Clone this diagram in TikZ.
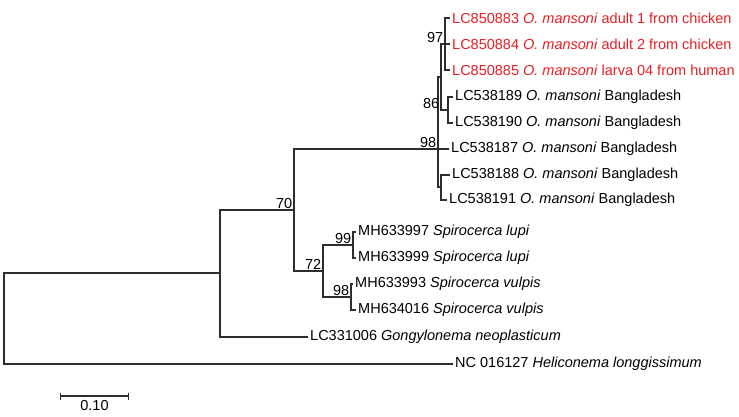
\documentclass[tikz,border=0pt]{standalone}
\usepackage{fontspec}
\setmainfont{Liberation Sans}
\usepackage{xcolor}
\usetikzlibrary{arrows.meta}

\definecolor{tipred}{RGB}{232,30,36}

\begin{document}
\begin{tikzpicture}[
  x=1pt, y=-1pt,
  font=\fontsize{14.5}{16}\selectfont,
  branch/.style={line width=1.3pt, draw=black!82},
  taxon/.style={anchor=west, inner sep=2pt},
  newtaxon/.style={taxon, text=tipred},
  boot/.style={anchor=south east, inner sep=1.5pt}
]
\useasboundingbox (0,0) rectangle (739,417);

% internal nodes
\coordinate (root)  at (4,319);
\coordinate (nA)    at (220,273);
\coordinate (nB)    at (294,210);
\coordinate (nC)    at (323,271);
\coordinate (nLupi) at (353,245);
\coordinate (nVulp) at (351,297);
\coordinate (n98)   at (438,149);
\coordinate (n86)   at (441,77);
\coordinate (n97)   at (445,44);
\coordinate (n89)   at (448,110);
\coordinate (n88)   at (441,187);

% tips
\node[newtaxon] (t883) at (450,18)  {LC850883 \textit{O. mansoni} adult 1 from chicken};
\node[newtaxon] (t884) at (450,44)  {LC850884 \textit{O. mansoni} adult 2 from chicken};
\node[newtaxon] (t885) at (450,70)  {LC850885 \textit{O. mansoni} larva 04 from human};
\node[taxon] (t189) at (453,97)  {LC538189 \textit{O. mansoni} Bangladesh};
\node[taxon] (t190) at (453,123) {LC538190 \textit{O. mansoni} Bangladesh};
\node[taxon] (t187) at (449,149) {LC538187 \textit{O. mansoni} Bangladesh};
\node[taxon] (t188) at (450,175) {LC538188 \textit{O. mansoni} Bangladesh};
\node[taxon] (t191) at (447,200) {LC538191 \textit{O. mansoni} Bangladesh};
\node[taxon] (t997) at (356,232) {MH633997 \textit{Spirocerca lupi}};
\node[taxon] (t999) at (356,258) {MH633999 \textit{Spirocerca lupi}};
\node[taxon] (t993) at (353,284) {MH633993 \textit{Spirocerca vulpis}};
\node[taxon] (t016) at (356,310) {MH634016 \textit{Spirocerca vulpis}};
\node[taxon] (tGon) at (308,337) {LC331006 \textit{Gongylonema neoplasticum}};
\node[taxon] (tHel) at (453,364) {NC 016127 \textit{Heliconema longgissimum}};

% branches
\foreach \p/\c in {root/nA, root/tHel, nA/nB, nA/tGon, nB/n98, nB/nC,
                   nC/nLupi, nC/nVulp, nLupi/t997, nLupi/t999,
                   nVulp/t993, nVulp/t016, n98/n86, n98/t187, n98/n88,
                   n86/n97, n86/n89, n97/t883, n97/t884, n97/t885,
                   n89/t189, n89/t190, n88/t188, n88/t191}
  \draw[branch] (\p) |- (\c);

% bootstrap values
\node[boot] (b70) at (nB)    {70};
\node[boot] (b72) at (nC)    {72};
\node[boot] (b99) at (nLupi) {99};
\node[boot] (b98s) at (nVulp) {98};
\node[boot] (b98) at (n98)   {98};
\node[boot] (b86) at (n89 -| n86) {86};
\node[boot] (b97) at (n97)   {97};

% scale bar
\coordinate (sbL) at (60,396);
\coordinate (sbR) at (129,396);
\draw[branch, {Bar[width=7pt]}-{Bar[width=7pt]}] (sbL) -- (sbR)
  node[midway, below=0pt] (sbT) {0.10};
\end{tikzpicture}
\end{document}
